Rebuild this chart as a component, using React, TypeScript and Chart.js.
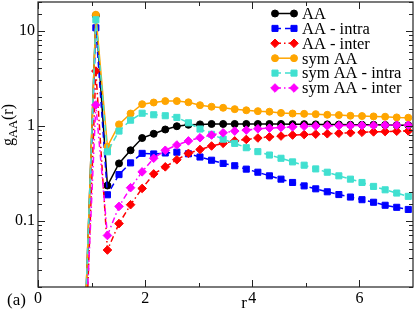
import { useEffect, useRef } from "react";
import { Chart, registerables } from "chart.js";
import { drawPoint } from "chart.js/helpers";

Chart.register(...registerables);

const FONT = '"Liberation Serif", "Times New Roman", serif';

// r values (sample positions)
const rValues = [
  0.864, 1.08, 1.296, 1.512, 1.728, 1.944, 2.16, 2.376, 2.592, 2.808, 3.024, 3.24, 3.456, 3.672, 3.888,
  4.104, 4.32, 4.536, 4.752, 4.968, 5.184, 5.4, 5.616, 5.832, 6.048, 6.264, 6.48, 6.696, 6.912,
];

const gAA = [
  0.005, 14.45, 0.234, 0.4, 0.55, 0.74, 0.82, 0.91, 0.985, 1.02, 1.03, 1.04, 1.04, 1.04, 1.04, 1.04, 1.04,
  1.04, 1.035, 1.035, 1.03, 1.03, 1.025, 1.02, 1.02, 1.02, 1.015, 1.01, 1.01,
];
const gAAIntra = [
  0.004, 10.7, 0.187, 0.305, 0.405, 0.51, 0.503, 0.515, 0.525, 0.505, 0.467, 0.432, 0.4, 0.378, 0.348,
  0.323, 0.296, 0.273, 0.252, 0.232, 0.216, 0.201, 0.188, 0.177, 0.166, 0.156, 0.145, 0.138, 0.131,
];
const gAAInter = [
  0.002, 3.75, 0.049, 0.093, 0.147, 0.218, 0.31, 0.368, 0.437, 0.51, 0.56, 0.61, 0.65, 0.69, 0.715, 0.74,
  0.76, 0.776, 0.795, 0.805, 0.812, 0.82, 0.83, 0.84, 0.85, 0.858, 0.865, 0.872, 0.878,
];
const gSymAA = [
  0.005, 14.7, 0.6, 1.03, 1.34, 1.68, 1.75, 1.81, 1.81, 1.76, 1.64, 1.58, 1.54, 1.49, 1.45, 1.42, 1.4,
  1.36, 1.34, 1.33, 1.32, 1.3, 1.29, 1.27, 1.26, 1.25, 1.24, 1.22, 1.21,
];
const gSymAAIntra = [
  0.005, 13.0, 0.53, 0.876, 1.14, 1.35, 1.3, 1.27, 1.22, 1.07, 0.92, 0.81, 0.72, 0.65, 0.585, 0.532, 0.49,
  0.453, 0.415, 0.383, 0.35, 0.323, 0.296, 0.273, 0.252, 0.229, 0.211, 0.195, 0.18,
];
const gSymAAInter = [
  0.003, 1.65, 0.0697, 0.141, 0.222, 0.326, 0.453, 0.55, 0.625, 0.69, 0.745, 0.795, 0.84, 0.875, 0.897,
  0.926, 0.94, 0.957, 0.97, 0.985, 0.99, 0.995, 1.0, 1.0, 1.005, 1.005, 1.01, 1.01, 1.01,
];

const seriesLabels = ["AA", "AA - intra", "AA - inter", "sym AA", "sym AA - intra", "sym AA - inter"];
const seriesValues = [gAA, gAAIntra, gAAInter, gSymAA, gSymAAIntra, gSymAAInter];

const xMajorTicks = [0, 2, 4, 6];
const xMinorTicks = [1, 3, 5];
const yMajorTicks = [0.1, 1, 10];

const styles = [
  { color: "#000000", dash: [] as number[], point: "circle", radius: 3.5 },
  { color: "#0000ff", dash: [6, 4], point: "rect", radius: 4.3 },
  { color: "#ff0000", dash: [6, 3, 1.5, 3], point: "rectRot", radius: 4.3 },
  { color: "#ffa500", dash: [] as number[], point: "circle", radius: 3.5 },
  { color: "#40e0d0", dash: [6, 4], point: "rect", radius: 4.3 },
  { color: "#ff00ff", dash: [6, 3, 1.5, 3], point: "rectRot", radius: 4.3 },
];

const decorPlugin = {
  id: "decor",
  afterDatasetsDraw(chart: any) {
    const { ctx, chartArea: a, scales } = chart;
    const xs = scales.x;
    const ys = scales.y;
    ctx.save();
    ctx.strokeStyle = "#222";
    ctx.lineWidth = 1.2;
    ctx.setLineDash([]);
    ctx.strokeRect(a.left, a.top, a.right - a.left, a.bottom - a.top);

    const major = 7;
    const minor = 4;
    ctx.lineWidth = 1;
    ctx.beginPath();
    const xt = (v: number, len: number) => {
      const px = Math.round(xs.getPixelForValue(v)) + 0.5;
      ctx.moveTo(px, a.bottom);
      ctx.lineTo(px, a.bottom - len);
      ctx.moveTo(px, a.top);
      ctx.lineTo(px, a.top + len);
    };
    xMajorTicks.forEach((v) => xt(v, major));
    xMinorTicks.forEach((v) => xt(v, minor));
    const yt = (v: number, len: number) => {
      const py = Math.round(ys.getPixelForValue(v)) + 0.5;
      ctx.moveTo(a.left, py);
      ctx.lineTo(a.left + len, py);
      ctx.moveTo(a.right, py);
      ctx.lineTo(a.right - len, py);
    };
    ys.ticks.forEach((t: any) => {
      const v = t.value;
      const isMajor = yMajorTicks.some((m) => Math.abs(Math.log10(m) - Math.log10(v)) < 1e-6);
      yt(v, isMajor ? major : minor);
    });
    ctx.stroke();

    // legend
    const lx0 = 275;
    const lx1 = 294;
    const ly0 = 13.5;
    const dy = 14.9;
    chart.data.datasets.forEach((ds: any, i: number) => {
      const y = ly0 + i * dy;
      ctx.strokeStyle = ds.borderColor;
      ctx.lineWidth = ds.borderWidth;
      ctx.setLineDash(ds.borderDash || []);
      ctx.beginPath();
      ctx.moveTo(lx0, y);
      ctx.lineTo(lx1, y);
      ctx.stroke();
      ctx.setLineDash([]);
      ctx.fillStyle = ds.pointBackgroundColor;
      ctx.strokeStyle = ds.pointBorderColor;
      ctx.lineWidth = 1;
      [lx0, lx1].forEach((px) =>
        drawPoint(ctx, { pointStyle: ds.pointStyle, radius: ds.pointRadius, rotation: 0, borderWidth: 1 } as any, px, y)
      );
      ctx.fillStyle = "#000";
      ctx.font = `16.5px ${FONT}`;
      ctx.textAlign = "left";
      ctx.textBaseline = "middle";
      ctx.fillText(ds.label, 302, y + 1);
    });
    ctx.restore();
  },
  afterDraw(chart: any) {
    const { ctx } = chart;
    ctx.save();
    ctx.fillStyle = "#000";
    // y title g_AA(r)
    ctx.translate(13, 125);
    ctx.rotate(-Math.PI / 2);
    ctx.textBaseline = "alphabetic";
    ctx.textAlign = "left";
    const mainF = `16px ${FONT}`;
    const subF = `12.5px ${FONT}`;
    ctx.font = mainF;
    const wg = ctx.measureText("g").width;
    const wr = ctx.measureText("(r)").width;
    ctx.font = subF;
    const wa = ctx.measureText("AA").width;
    let x = -(wg + wa + wr) / 2;
    ctx.font = mainF;
    ctx.fillText("g", x, 0);
    x += wg;
    ctx.font = subF;
    ctx.fillText("AA", x, 4);
    x += wa;
    ctx.font = mainF;
    ctx.fillText("(r)", x, 0);
    ctx.restore();

    ctx.save();
    ctx.fillStyle = "#000";
    ctx.textBaseline = "alphabetic";
    ctx.font = `17px ${FONT}`;
    ctx.textAlign = "center";
    ctx.fillText("r", 244, 308);
    ctx.textAlign = "left";
    ctx.fillText("(a)", 7, 305);
    ctx.restore();
  },
};

export default function App() {
  const ref = useRef<HTMLCanvasElement>(null);
  useEffect(() => {
    const canvas = ref.current!;
    const datasets = seriesValues.map((vals, i) => ({
      label: seriesLabels[i],
      data: vals.map((v, j) => ({ x: rValues[j], y: v })),
      borderColor: styles[i].color,
      backgroundColor: styles[i].color,
      pointBackgroundColor: styles[i].color,
      pointBorderColor: styles[i].color,
      pointBorderWidth: 1,
      borderWidth: 1.5,
      borderDash: styles[i].dash,
      pointStyle: styles[i].point,
      pointRadius: styles[i].radius,
      tension: 0,
      fill: false,
      order: 6 - i,
    }));
    const chart = new Chart(canvas, {
      type: "line",
      data: { datasets },
      plugins: [decorPlugin],
      options: {
        responsive: false,
        animation: false,
        devicePixelRatio: 1,
        layout: { autoPadding: false, padding: { top: 2, right: 2, left: 0, bottom: 0 } },
        plugins: { legend: { display: false }, tooltip: { enabled: false } },
        scales: {
          x: {
            type: "linear",
            min: 0,
            max: 7,
            grid: { display: false, drawTicks: false },
            border: { display: false },
            ticks: {
              stepSize: 1,
              autoSkip: false,
              maxRotation: 0,
              padding: 2,
              color: "#000",
              font: { family: FONT, size: 16 },
              callback: (v: any) => (xMajorTicks.includes(Number(v)) ? String(v) : ""),
            },
            afterFit: (s: any) => {
              s.height = 24;
              s.paddingLeft = 0;
              s.paddingRight = 0;
            },
          },
          y: {
            type: "logarithmic",
            min: 0.02,
            max: 20,
            grid: { display: false, drawTicks: false },
            border: { display: false },
            ticks: {
              autoSkip: false,
              padding: 3,
              color: "#000",
              font: { family: FONT, size: 16 },
              callback: (v: any) => {
                const n = Number(v);
                const m = yMajorTicks.find((t) => Math.abs(Math.log10(t) - Math.log10(n)) < 1e-6);
                return m === undefined ? "" : String(m);
              },
            },
            afterFit: (s: any) => {
              s.width = 38;
              s.paddingTop = 0;
              s.paddingBottom = 0;
            },
          },
        },
      } as any,
    });
    return () => chart.destroy();
  }, []);
  return (
    <div style={{ position: "absolute", left: 0, top: 0, width: 415, height: 311, background: "#fff" }}>
      <canvas ref={ref} width={415} height={311} style={{ display: "block", width: 415, height: 311 }} />
    </div>
  );
}
